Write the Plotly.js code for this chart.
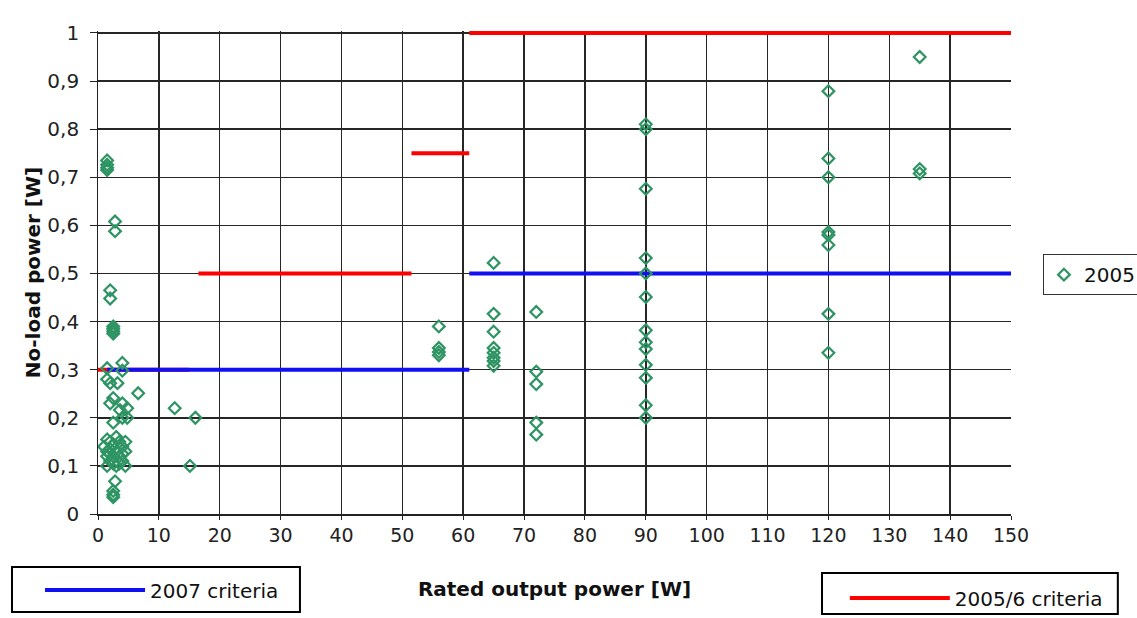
<!DOCTYPE html>
<html>
<head>
<meta charset="utf-8">
<script src="https://cdn.plot.ly/plotly-3.0.1.min.js"></script>
<style>html,body{margin:0;padding:0;background:#fff;}#chart{width:1137px;height:618px;}</style>
</head>
<body>
<div id="chart"></div>
<script>
// Rated output power [W] and no-load power [W] of 2005 adapters
const powerW = [
  1.5, 1.5, 1.5, 1.5,
  2.8, 2.8,
  2, 2,
  2.5, 2.5, 2.5, 2.5,
  4, 4, 1.5, 1.5, 2, 3.2,
  6.6,
  2.5, 2, 4, 4.8, 3.6, 4, 4.8, 2.5,
  12.6, 16, 15.1,
  1.5, 2, 2.5, 3, 3.5, 4, 4.5, 1.5, 2, 2.5, 3, 3.5, 4, 1.5, 2, 2.5, 3, 4, 4.5, 1.5, 3.5, 4.5, 1, 2,
  2.8, 2.5, 2.5, 2.5,
  56, 56, 56, 56,
  65, 65, 65, 65, 65, 65, 65, 65,
  72, 72, 72, 72, 72,
  90, 90, 90, 90, 90, 90, 90, 90, 90, 90, 90, 90, 90,
  120, 120, 120, 120, 120, 120, 120, 120,
  135, 135, 135
];
const noLoadW = [
  0.735, 0.726, 0.72, 0.715,
  0.608, 0.588,
  0.465, 0.448,
  0.39, 0.385, 0.38, 0.375,
  0.314, 0.298, 0.303, 0.28, 0.272, 0.272,
  0.251,
  0.241, 0.23, 0.23, 0.22, 0.216, 0.2, 0.2, 0.19,
  0.22, 0.2, 0.1,
  0.155, 0.15, 0.145, 0.16, 0.15, 0.14, 0.15, 0.13, 0.135, 0.12, 0.13, 0.12, 0.125, 0.12, 0.11, 0.105, 0.1, 0.11, 0.1, 0.1, 0.105, 0.13, 0.14, 0.125,
  0.068, 0.048, 0.04, 0.035,
  0.39, 0.345, 0.337, 0.33,
  0.522, 0.416, 0.379, 0.345, 0.335, 0.325, 0.318, 0.308,
  0.42, 0.296, 0.27, 0.19, 0.165,
  0.81, 0.8, 0.676, 0.532, 0.5, 0.451, 0.382, 0.357, 0.343, 0.31, 0.283, 0.226, 0.2,
  0.879, 0.739, 0.7, 0.586, 0.58, 0.559, 0.416, 0.335,
  0.95, 0.717, 0.708
];
// Criteria step segments (null separates segments)
const crit2007X = [1.5, 61, null, 61, 150];
const crit2007Y = [0.3, 0.3, null, 0.5, 0.5];
const crit2005X = [0, 15, null, 16.5, 51.5, null, 51.5, 61, null, 61, 150];
const crit2005Y = [0.3, 0.3, null, 0.5, 0.5, null, 0.75, 0.75, null, 1, 1];
const xTicks = [0,10,20,30,40,50,60,70,80,90,100,110,120,130,140,150];

const FONT = 'DejaVu Sans, Verdana, sans-serif';

const traces = [
  {x: crit2005X, y: crit2005Y, name: '2005/6 criteria', type: 'scatter', mode: 'lines',
   line: {color: '#ff0000', width: 4}, legend: 'legend3', connectgaps: false},
  {x: crit2007X, y: crit2007Y, name: '2007 criteria', type: 'scatter', mode: 'lines',
   line: {color: '#1010f0', width: 4}, legend: 'legend2', connectgaps: false},
  {x: powerW, y: noLoadW, name: '2005', type: 'scatter', mode: 'markers',
   marker: {symbol: 'diamond-open', size: 9, color: '#2e9463', line: {width: 2.2, color: '#2e9463'}},
   legend: 'legend'}
];

const layout = {
  width: 1137, height: 618,
  margin: {l: 98, r: 126, t: 31, b: 104, autoexpand: false},
  paper_bgcolor: '#ffffff', plot_bgcolor: '#ffffff',
  separators: ',.',
  font: {family: FONT, size: 20, color: '#222'},
  showlegend: true,
  xaxis: {
    range: [0, 150], tickvals: xTicks, ticks: 'outside', ticklen: 4, tickcolor: '#222',
    showgrid: true, gridcolor: '#262626', gridwidth: 1.5,
    showline: true, linecolor: '#222', linewidth: 1.5, zeroline: false,
    tickfont: {family: FONT, size: 19, color: '#222'},
    title: {text: 'Rated output power [W]', font: {family: FONT, size: 20, color: '#111', weight: 'bold'}, standoff: 36}
  },
  yaxis: {
    range: [0, 1.004], dtick: 0.1, tick0: 0, ticks: 'outside', ticklen: 7, tickcolor: '#222',
    ticksuffix: '\u00a0',
    showgrid: true, gridcolor: '#262626', gridwidth: 1.5,
    showline: true, linecolor: '#222', linewidth: 1.5, zeroline: false,
    tickfont: {family: FONT, size: 20, color: '#222'},
    title: {text: 'No-load power [W]', font: {family: FONT, size: 20, color: '#111', weight: 'bold'}}
  },
  legend: {
    x: 1.035, y: 0.538, xanchor: 'left', yanchor: 'top',
    bordercolor: '#333', borderwidth: 1, bgcolor: '#fff',
    font: {family: FONT, size: 20, color: '#111'}
  },
  legend2: {
    x: -0.0635, y: -0.1573, xanchor: 'left', yanchor: 'middle',
    borderwidth: 0, bgcolor: 'rgba(0,0,0,0)', itemwidth: 100,
    font: {family: FONT, size: 20, color: '#111'}
  },
  legend3: {
    x: 0.818, y: -0.1739, xanchor: 'left', yanchor: 'middle',
    borderwidth: 0, bgcolor: 'rgba(0,0,0,0)', itemwidth: 100,
    font: {family: FONT, size: 20, color: '#111'}
  },
  shapes: [
    {type: 'rect', xref: 'paper', yref: 'paper', x0: -0.0942, x1: 0.2212, y0: -0.2029, y1: -0.1097,
     line: {color: '#000', width: 2}, fillcolor: 'rgba(0,0,0,0)'},
    {type: 'rect', xref: 'paper', yref: 'paper', x0: 0.793, x1: 1.117, y0: -0.207, y1: -0.1222,
     line: {color: '#000', width: 2}, fillcolor: 'rgba(0,0,0,0)'}
  ]
};

Plotly.newPlot('chart', traces, layout, {displayModeBar: false, staticPlot: true});
</script>
</body>
</html>
